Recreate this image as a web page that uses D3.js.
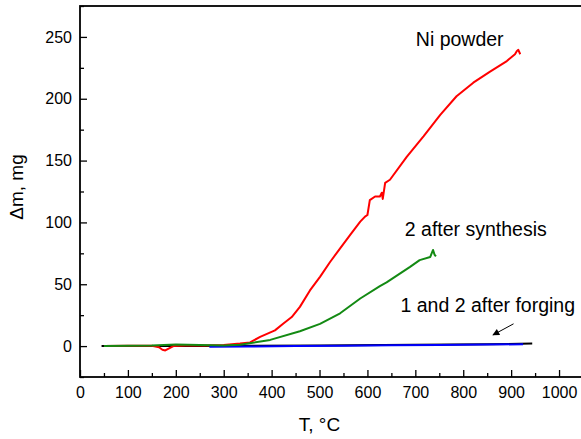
<!DOCTYPE html>
<html>
<head>
<meta charset="utf-8">
<script src="https://cdn.jsdelivr.net/npm/d3@7"></script>
<style>
  body { margin: 0; background: #fff; }
  svg { display: block; font-family: "Liberation Sans", Arial, sans-serif; }
  .axis text { font-size: 16px; fill: #000; }
  .axis line { stroke: #000; stroke-width: 1.3px; }
  .axis path { display: none; }
</style>
</head>
<body>
<svg id="chart" width="581" height="439"></svg>
<script>
// Ni powder (red)
let niTemp = [50, 100, 150, 165, 172, 178, 185, 195, 220, 260, 300, 334, 355, 376, 407, 424, 442, 459, 480, 501, 522, 543, 564, 585, 595, 600, 605, 616, 626, 630, 632, 637, 647, 682, 717, 752, 786, 821, 856, 891, 908, 912, 915, 919];
let niMass = [0, 0.3, 0.2, -1, -3, -3.5, -2, 0, 0.5, 0.5, 0.8, 2, 3, 7.4, 12.7, 18, 23.5, 31.7, 45, 56, 68, 79, 90, 100.6, 104.7, 106, 118, 121, 121, 124, 119, 132, 134.5, 153, 169.6, 187, 202, 213, 222, 230.5, 236, 238.6, 239.5, 236];

// 2 after synthesis (green)
let synTemp = [50, 100, 150, 200, 250, 300, 334, 397, 459, 501, 543, 585, 626, 640, 689, 709, 731, 737, 740, 743];
let synMass = [0, 0.3, 0.5, 1.2, 0.8, 0.5, 1, 5, 12, 18, 26.5, 38.5, 48.5, 51.5, 64, 69.5, 72, 77.7, 74, 72.5];

// 1 after forging (black)
let forge1Temp = [45, 150, 250, 350, 500, 700, 850, 944];
let forge1Mass = [0, 0, 0, 0.2, 0.5, 1, 1.5, 2];

// 2 after forging (blue)
let forge2Temp = [270, 350, 450, 550, 650, 750, 850, 925];
let forge2Mass = [-0.5, -0.3, 0, 0.3, 0.6, 0.9, 1.2, 1.5];

let xMajor = [0, 100, 200, 300, 400, 500, 600, 700, 800, 900, 1000];
let xMinor = [50, 150, 250, 350, 450, 550, 650, 750, 850, 950, 1050];
let yMajor = [0, 50, 100, 150, 200, 250];
let yMinor = [-25, 25, 75, 125, 175, 225, 275];

let labelText = ["Ni powder", "2 after synthesis", "1 and 2 after forging"];
let labelX = [701, 678, 669];
let labelY = [242.5, 89, 27.6];

let arrowFrom = [905, 18];
let arrowTo = [862, 9];

let svg = d3.select("#chart");

let plotLeft = 80, plotRight = 583, plotTop = 6, plotBottom = 377;

let x = d3.scaleLinear().domain([0, 1050]).range([plotLeft, plotRight]);
let y = d3.scaleLinear().domain([-25, 275]).range([plotBottom, plotTop]);

svg.append("defs").append("marker")
    .attr("id", "arrow")
    .attr("viewBox", "0 0 10 10")
    .attr("refX", 9)
    .attr("refY", 5)
    .attr("markerWidth", 9)
    .attr("markerHeight", 7)
    .attr("markerUnits", "userSpaceOnUse")
    .attr("orient", "auto")
  .append("path")
    .attr("d", "M0,0L10,5L0,10z")
    .attr("fill", "#000");

// frame
svg.append("rect")
    .attr("x", plotLeft)
    .attr("y", plotTop)
    .attr("width", plotRight - plotLeft)
    .attr("height", plotBottom - plotTop)
    .attr("fill", "none")
    .attr("stroke", "#000")
    .attr("stroke-width", 1.8);

// x axis, ticks pointing inside
svg.append("g")
    .attr("class", "axis")
    .attr("transform", "translate(0," + plotBottom + ")")
    .call(d3.axisBottom(x).tickValues(xMajor).tickFormat(d3.format("d")).tickSize(-7).tickPadding(10).tickSizeOuter(0));

svg.append("g")
    .attr("class", "axis")
    .attr("transform", "translate(0," + plotBottom + ")")
    .call(d3.axisBottom(x).tickValues(xMinor).tickSize(-4).tickFormat("").tickSizeOuter(0));

// y axis
svg.append("g")
    .attr("class", "axis")
    .attr("transform", "translate(" + plotLeft + ",0)")
    .call(d3.axisLeft(y).tickValues(yMajor).tickFormat(d3.format("d")).tickSize(-7).tickPadding(8).tickSizeOuter(0));

svg.append("g")
    .attr("class", "axis")
    .attr("transform", "translate(" + plotLeft + ",0)")
    .call(d3.axisLeft(y).tickValues(yMinor).tickSize(-4).tickFormat("").tickSizeOuter(0));

let line = d3.line()
    .x(function(d){ return x(d[0]); })
    .y(function(d){ return y(d[1]); });

function drawCurve(temps, masses, color){
  svg.append("path")
      .datum(d3.zip(temps, masses))
      .attr("d", line)
      .attr("fill", "none")
      .attr("stroke", color)
      .attr("stroke-width", 2)
      .attr("stroke-linejoin", "round");
}

drawCurve(forge1Temp, forge1Mass, "#000000");
drawCurve(niTemp, niMass, "#ff0000");
drawCurve(forge2Temp, forge2Mass, "#0000ff");
drawCurve(synTemp, synMass, "#138a13");

// curve labels
svg.selectAll(".curveLabel")
    .data(labelText)
    .enter()
    .append("text")
    .attr("class", "curveLabel")
    .attr("x", function(d, i){ return x(labelX[i]); })
    .attr("y", function(d, i){ return y(labelY[i]); })
    .attr("font-size", "19.5px")
    .text(function(d){ return d; });

svg.append("line")
    .attr("x1", x(arrowFrom[0]))
    .attr("y1", y(arrowFrom[1]))
    .attr("x2", x(arrowTo[0]))
    .attr("y2", y(arrowTo[1]))
    .attr("stroke", "#000")
    .attr("stroke-width", 1)
    .attr("marker-end", "url(#arrow)");

// axis titles
svg.append("text")
    .attr("x", (plotLeft + 559) / 2)
    .attr("y", 431)
    .attr("text-anchor", "middle")
    .attr("font-size", "19px")
    .text("T, \u00B0C");

svg.append("text")
    .attr("transform", "rotate(-90)")
    .attr("x", -187)
    .attr("y", 23)
    .attr("text-anchor", "middle")
    .attr("font-size", "19px")
    .text("\u0394m, mg");
</script>
</body>
</html>
